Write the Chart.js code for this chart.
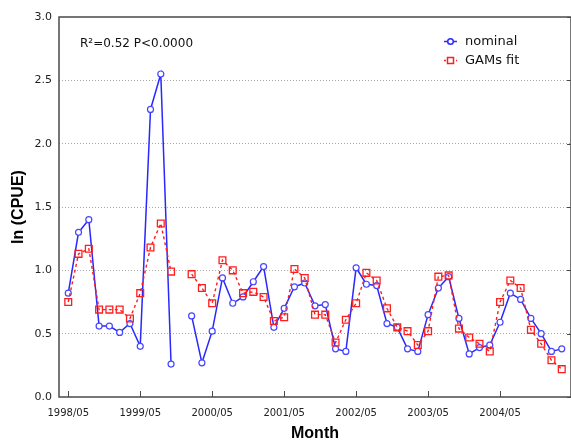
<!DOCTYPE html>
<html>
<head>
<meta charset="utf-8">
<script src="https://cdn.jsdelivr.net/npm/chart.js@4/dist/chart.umd.min.js"></script>
<style>
  body { margin: 0; background: #fff; }
  canvas { display: block; }
</style>
</head>
<body>
<canvas id="cpueChart" width="571" height="443"></canvas>
<script>
    // fishing season: May..November of each year
    const years = ['1998', '1999', '2000', '2001', '2002', '2003', '2004'];
    const months = ['05', '06', '07', '08', '09', '10', '11'];
    const monthLabels = years.flatMap(y => months.map(m => y + '/' + m));

    const nominal = [
        0.82, 1.30, 1.40, 0.56, 0.56, 0.51, 0.58,
        0.40, 2.27, 2.55, 0.26, null, 0.64, 0.27,
        0.52, 0.94, 0.74, 0.79, 0.91, 1.03, 0.55,
        0.70, 0.87, 0.90, 0.72, 0.73, 0.38, 0.36,
        1.02, 0.89, 0.88, 0.58, 0.55, 0.38, 0.36,
        0.65, 0.86, 0.95, 0.62, 0.34, 0.39, 0.41,
        0.59, 0.82, 0.77, 0.62, 0.50, 0.36, 0.38
    ];
    const gamsFit = [
        0.75, 1.13, 1.17, 0.69, 0.69, 0.69, 0.62,
        0.82, 1.18, 1.37, 0.99, null, 0.97, 0.86,
        0.74, 1.08, 1.00, 0.82, 0.83, 0.79, 0.60,
        0.63, 1.01, 0.94, 0.65, 0.65, 0.43, 0.61,
        0.74, 0.98, 0.92, 0.70, 0.55, 0.52, 0.41,
        0.52, 0.95, 0.96, 0.54, 0.47, 0.42, 0.36,
        0.75, 0.92, 0.86, 0.53, 0.42, 0.29, 0.22
    ];
    const yTicks = [0, 0.5, 1.0, 1.5, 2.0, 2.5, 3.0];
    const statsText = 'R\u00B2=0.52 P<0.0000';

    const blue = 'rgb(40, 40, 255)';
    const red = 'rgb(255, 30, 30)';
    const frameColor = '#4a4a4a';

    // x ticks only at May of each year
    const tickIdx = monthLabels.map((l, i) => l.endsWith('/05') ? i : -1).filter(i => i >= 0);

    const toPoints = arr => arr.map((v, i) => ({ x: i, y: v }));

    const decor = {
        id: 'decor',
        beforeDatasetsDraw(chart) {
            const { ctx, chartArea: a, scales } = chart;
            ctx.save();
            ctx.strokeStyle = frameColor;
            ctx.lineWidth = 1.5;
            ctx.strokeRect(a.left, a.top, a.right - a.left, a.bottom - a.top);
            ctx.lineWidth = 1;
            ctx.beginPath();
            tickIdx.forEach(v => {
                const x = Math.round(scales.x.getPixelForValue(v)) + 0.5;
                ctx.moveTo(x, a.bottom);
                ctx.lineTo(x, a.bottom - 6);
            });
            yTicks.forEach(v => {
                const y = Math.round(scales.y.getPixelForValue(v)) + 0.5;
                ctx.moveTo(a.right, y);
                ctx.lineTo(a.right - 4, y);
            });
            ctx.stroke();
            ctx.restore();
        },
        afterDraw(chart) {
            const ctx = chart.ctx;
            ctx.save();
            ctx.fillStyle = '#111';
            ctx.textBaseline = 'middle';
            ctx.font = '12px "DejaVu Sans"';
            ctx.fillText(statsText, 80, 44);

            const items = [
                { text: 'nominal', color: blue, dash: [], y: 41.5, style: 'circle' },
                { text: 'GAMs fit', color: red, dash: [2, 2], y: 60.5, style: 'rect' }
            ];
            items.forEach(it => {
                ctx.strokeStyle = it.color;
                ctx.lineWidth = 1.5;
                ctx.setLineDash(it.dash);
                ctx.beginPath();
                ctx.moveTo(444, it.y);
                ctx.lineTo(457, it.y);
                ctx.stroke();
                ctx.setLineDash([]);
                ctx.fillStyle = '#fff';
                ctx.beginPath();
                if (it.style === 'circle') {
                    ctx.arc(450.5, it.y, 2.8, 0, Math.PI * 2);
                } else {
                    ctx.rect(447.5, it.y - 3, 6, 6);
                }
                ctx.fill();
                ctx.stroke();
                ctx.fillStyle = '#111';
                ctx.font = '13px "DejaVu Sans"';
                ctx.fillText(it.text, 465, it.y);
            });
            ctx.restore();
        }
    };

    const ctx = document.getElementById('cpueChart').getContext('2d');
    new Chart(ctx, {
        type: 'line',
        data: {
            datasets: [{
                label: 'nominal',
                data: toPoints(nominal),
                borderColor: blue,
                backgroundColor: '#fff',
                borderWidth: 1.5,
                pointStyle: 'circle',
                pointRadius: 3,
                pointBorderColor: 'rgb(70, 70, 255)',
                pointBorderWidth: 1.2,
                pointBackgroundColor: '#fff',
                tension: 0,
                spanGaps: false,
                order: 2
            }, {
                label: 'GAMs fit',
                data: toPoints(gamsFit),
                borderColor: red,
                backgroundColor: '#fff',
                borderWidth: 1.4,
                borderDash: [3, 3],
                pointStyle: 'rect',
                pointRadius: 4.8,
                pointBorderColor: red,
                pointBorderWidth: 1.3,
                pointBackgroundColor: 'rgba(255,255,255,0)',
                tension: 0,
                spanGaps: false,
                order: 1
            }]
        },
        options: {
            responsive: false,
            animation: false,
            layout: { autoPadding: false, padding: { top: 17, left: 0, right: 0, bottom: 0 } },
            scales: {
                x: {
                    type: 'linear',
                    min: -0.9,
                    max: 48.9,
                    afterBuildTicks: axis => { axis.ticks = tickIdx.map(v => ({ value: v })); },
                    afterFit: axis => {
                        axis.height = 46;
                        axis.paddingLeft = 0;
                        axis.paddingRight = 0;
                    },
                    grid: { display: false },
                    border: { display: false },
                    ticks: {
                        autoSkip: false,
                        maxRotation: 0,
                        padding: 2,
                        color: '#222',
                        font: { family: 'DejaVu Sans', size: 10 },
                        callback: v => monthLabels[v]
                    },
                    title: {
                        display: true,
                        text: 'Month',
                        color: '#000',
                        padding: { top: 0, bottom: 0 },
                        font: { family: 'Liberation Sans', size: 16, weight: 'bold' }
                    }
                },
                y: {
                    min: 0,
                    max: 3,
                    afterBuildTicks: axis => { axis.ticks = yTicks.map(v => ({ value: v })); },
                    afterFit: axis => { axis.width = 59; },
                    grid: {
                        drawTicks: false,
                        color: c => (c.tick && (c.tick.value === 0 || c.tick.value === 3)) ? 'rgba(0,0,0,0)' : '#a8a8a8',
                        lineWidth: 1
                    },
                    border: { display: false, dash: [1, 2] },
                    ticks: {
                        padding: 7,
                        color: '#222',
                        font: { family: 'DejaVu Sans', size: 11 },
                        callback: v => v.toFixed(1)
                    },
                    title: {
                        display: true,
                        text: 'ln (CPUE)',
                        color: '#000',
                        padding: { top: 9, bottom: 0 },
                        font: { family: 'Liberation Sans', size: 16, weight: 'bold' }
                    }
                }
            },
            plugins: {
                legend: { display: false },
                tooltip: { enabled: false }
            }
        },
        plugins: [decor]
    });
</script>
</body>
</html>
